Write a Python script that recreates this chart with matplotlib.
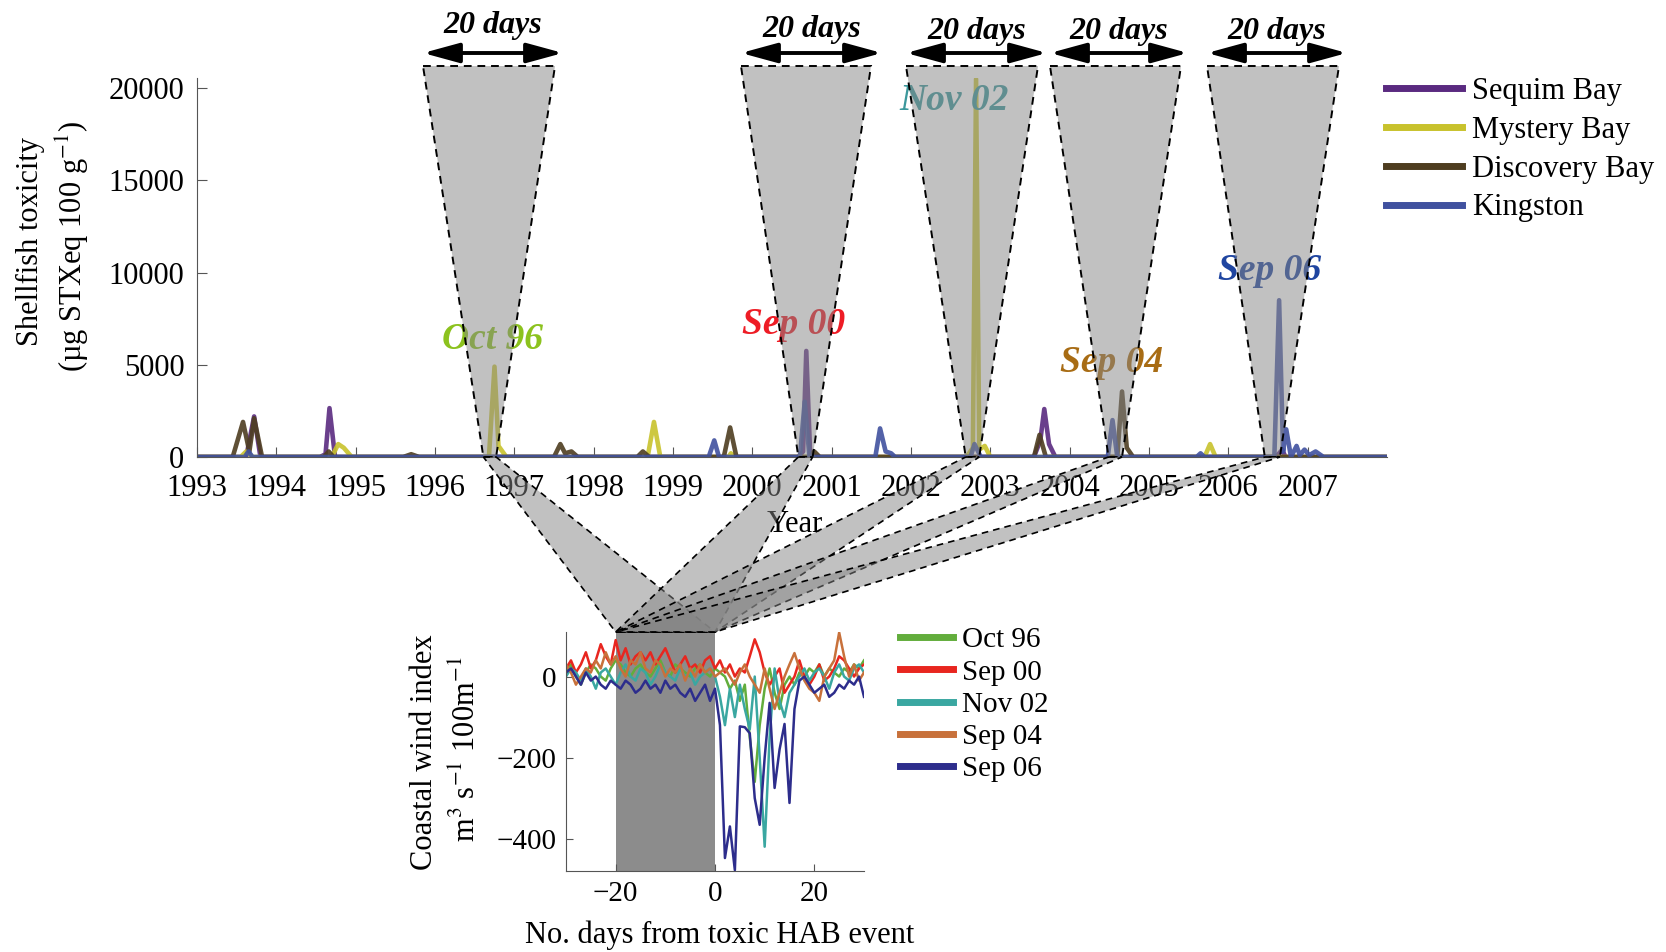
import numpy as np
import matplotlib
matplotlib.use('Agg')
import matplotlib.pyplot as plt
from matplotlib.patches import Polygon, FancyArrowPatch

plt.rcParams['font.family'] = ['Liberation Serif', 'DejaVu Serif']
plt.rcParams['mathtext.fontset'] = 'stix'

# ---- shellfish toxicity (ug STXeq 100 g-1) ----
t_sequim = [1993.0, 1993.62, 1993.72, 1993.80, 1994.55, 1994.62, 1994.67, 1994.74, 1995.5,
            1997.5, 1998.6, 1999.5, 2000.58, 2000.64, 2000.68, 2000.73, 2001.6, 2002.7,
            2003.55, 2003.63, 2003.68, 2003.74, 2003.82, 2004.6, 2006.6, 2006.68, 2006.72, 2008.0]
v_sequim = [0, 0, 2200, 0, 0, 150, 2650, 0, 0,
            0, 0, 0, 0, 300, 5750, 0, 0, 0,
            0, 900, 2600, 700, 0, 0, 0, 400, 0, 0]

t_mystery = [1993.0, 1993.55, 1993.62, 1993.70, 1994.70, 1994.78, 1994.85, 1994.95,
             1996.68, 1996.75, 1996.80, 1996.90, 1998.68, 1998.76, 1998.84, 1999.70, 1999.73,
             1999.77, 2002.70, 2002.78, 2002.82, 2002.86, 2002.93, 2003.0, 2005.70, 2005.77,
             2005.84, 2008.0]
v_mystery = [0, 0, 300, 0, 0, 700, 500, 0,
             0, 4900, 600, 0, 0, 1900, 0, 0, 200,
             0, 0, 500, 20500, 400, 600, 0, 0, 700,
             0, 0]

t_discovery = [1993.0, 1993.45, 1993.58, 1993.66, 1993.72, 1993.82, 1994.60, 1994.66, 1994.72,
               1995.60, 1995.70, 1995.80, 1997.50, 1997.58, 1997.64, 1997.72, 1997.80, 1998.55,
               1998.62, 1998.70, 1999.64, 1999.72, 1999.80, 2000.72, 2000.78, 2000.85, 2003.55,
               2003.62, 2003.70, 2004.60, 2004.66, 2004.72, 2004.80, 2008.0]
v_discovery = [0, 0, 1900, 300, 2100, 0, 0, 300, 0,
               0, 150, 0, 0, 700, 200, 300, 0, 0,
               300, 0, 0, 1600, 0, 0, 300, 0, 0,
               1200, 0, 0, 3550, 500, 0, 0]

t_kingston = [1993.0, 1993.60, 1993.65, 1993.70, 1999.45, 1999.52, 1999.58, 2000.60, 2000.66,
              2000.72, 2001.55, 2001.61, 2001.68, 2001.75, 2001.80, 2002.75, 2002.80, 2002.88,
              2004.48, 2004.54, 2004.60, 2005.60, 2005.65, 2005.70, 2006.58, 2006.64, 2006.69,
              2006.73, 2006.79, 2006.86, 2006.90, 2006.96, 2007.02, 2007.10, 2007.20, 2008.0]
v_kingston = [0, 0, 300, 0, 0, 900, 0, 0, 3000,
              0, 0, 1550, 300, 200, 0, 0, 700, 0,
              0, 2000, 0, 0, 200, 0, 0, 8500, 300,
              1500, 0, 600, 100, 400, 100, 300, 0, 0]

sites = ['Sequim Bay', 'Mystery Bay', 'Discovery Bay', 'Kingston']
site_colors = ['#5a2a80', '#c8c22c', '#4e3d20', '#40519f']

# ---- HAB events: 20-day windows on the time axis ----
events = ['Oct 96', 'Sep 00', 'Nov 02', 'Sep 04', 'Sep 06']
win_start = [1996.61, 2000.58, 2002.69, 2004.49, 2006.46]
win_end = [1996.77, 2000.76, 2002.86, 2004.66, 2006.65]
event_label_colors = ['#8cc21e', '#ee1c25', '#3c989c', '#a86c14', '#1f45a0']

# ---- coastal wind index around each event ----
days = np.arange(-30, 31)
wind_oct96 = [10, 30, 0, -20, 10, 30, 20, 0, -10, 20, 40, 30, 10, 0, 20, 30, 10, 0, 20, 40,
              10, 0, 30, 20, 10, 0, 20, 30, 10, 0, 20,
              10, 0, -30, -10, -60, -20, -150, -260, -120, -30, 20, -40, -80, -20, 0, -20,
              10, 0, 20, 10, 30, 0, 20, 10, 0, 20, 10, 30, 20, 40]
wind_sep00 = [20, 40, 10, 30, 60, 20, 40, 80, 50, 30, 90, 40, 70, 30, 50, 60, 40, 60, 30, 50,
              70, 40, 10, 30, 50, 20, 30, 10, 40, 50, 20,
              40, 10, 30, 0, 20, 10, 50, 92, 60, 10, -20, 0, 20, -40, -20, 0,
              40, 0, -20, 0, 30, -10, 0, 20, 50, 40, 20, 0, 20, 30]
wind_nov02 = [0, 20, 10, -10, 20, 0, -30, 10, 20, 0, -20, 10, 30, 0, -10, 20, 10, -20, 0, 30,
              10, 0, -10, 20, 0, 10, -20, 0, 10, 20, 0,
              -50, -120, -30, -100, -20, -80, -130, 0, -200, -420, -150, 20, -60, -100, -40, -20,
              0, 20, -10, 10, 20, 0, -30, 10, 30, 0, -10, 20, 30, 10]
wind_sep04 = [30, 10, -20, 0, 20, 10, 40, 20, 60, 30, 50, 20, 0, 40, 30, 60, 20, 10, 40, 30,
              0, 20, 10, 30, -10, 20, 0, 30, 10, 20, 0,
              10, 20, 0, -20, 10, 30, 0, -20, -40, 20, -30, -80, -40, 0, 30, 58,
              20, -10, -30, -40, -60, 0, 20, 40, 109, 50, 0, 30, -10, 10]
wind_sep06 = [10, 20, 0, -20, 10, -10, 0, -20, -30, -10, -20, -30, -10, -20, -40, -30, -10,
              -30, -20, -40, -10, -30, -20, -40, -50, -30, -60, -40, -20, -60, -30,
              -120, -448, -370, -478, -123, -125, -140, -300, -366, -200, -65, -275, -180, -117,
              -312, -80, -10, 0, -20, -40, -30, -20, -50, -40, -20, -30, -10, -20, 0, -50]
wind_series = [wind_oct96, wind_sep00, wind_nov02, wind_sep04, wind_sep06]
wind_colors = ['#62ad3c', '#e8261f', '#3aa7a1', '#c8713b', '#2d2d8c']

W, H = 1666, 952
fig = plt.figure(figsize=(W / 100, H / 100), dpi=100)


def px(x0, y0, x1, y1):
    # figure rect from pixel box (top-left origin)
    return [x0 / W, 1 - y1 / H, (x1 - x0) / W, (y1 - y0) / H]


# ---------------- top panel ----------------
ax = fig.add_axes(px(197, 78, 1387, 457))
t_all = [t_sequim, t_mystery, t_discovery, t_kingston]
v_all = [v_sequim, v_mystery, v_discovery, v_kingston]
for t, v, name, c in zip(t_all, v_all, sites, site_colors):
    ax.plot(t, v, color=c, lw=3.3, alpha=0.9, label=name)
ax.set_xlim(1993, 2008)
ax.set_ylim(0, 20550)
ax.set_xticks(range(1993, 2008))
ax.set_yticks([0, 5000, 10000, 15000, 20000])
ax.tick_params(direction='in', labelsize=22, length=7, color='#555555', pad=9)
ax.tick_params(axis='x', pad=12)
for s in ['top', 'right']:
    ax.spines[s].set_visible(False)
for s in ['left', 'bottom']:
    ax.spines[s].set_color('#555555')

leg = ax.legend(loc='upper left', bbox_to_anchor=(1386 / W, 1 - 77 / H),
                bbox_transform=fig.transFigure, frameon=False, fontsize=22,
                handlelength=2.5, handletextpad=0.33, labelspacing=0.32,
                borderpad=0, borderaxespad=0)
for line in leg.get_lines():
    line.set_linewidth(5)
    line.set_alpha(1)

fig.text(30 / W, 1 - 242 / H, 'Shellfish toxicity', rotation=90, ha='center', va='center', fontsize=22)
fig.text(72 / W, 1 - 246 / H, '(\u00b5g STXeq 100 g$^{-1}$)', rotation=90, ha='center',
         va='center', fontsize=22)
fig.text(795 / W, 1 - 524 / H, 'Year', ha='center', va='center', fontsize=22)

# ---------------- bottom panel ----------------
ax2 = fig.add_axes(px(566, 632, 864, 871))
ax2.axvspan(-20, 0, color='#8c8c8c', zorder=0, lw=0)
for y, name, c in zip(wind_series, events, wind_colors):
    ax2.plot(days, y, color=c, lw=1.8, label=name, zorder=2)
ax2.set_xlim(-30, 30)
ax2.set_ylim(-480, 110)
ax2.set_xticks([-20, 0, 20])
ax2.set_yticks([-400, -200, 0])
ax2.tick_params(direction='in', labelsize=21, length=5, color='#555555', pad=7)
for s in ['top', 'right']:
    ax2.spines[s].set_visible(False)
for s in ['left', 'bottom']:
    ax2.spines[s].set_color('#555555')

leg2 = ax2.legend(loc='upper left', bbox_to_anchor=(900 / W, 1 - 627 / H),
                  bbox_transform=fig.transFigure, frameon=False, fontsize=21,
                  handlelength=1.8, handletextpad=0.33, labelspacing=0.2,
                  borderpad=0, borderaxespad=0)
for line in leg2.get_lines():
    line.set_linewidth(5)

fig.text(425 / W, 1 - 752 / H, 'Coastal wind index', rotation=90, ha='center', va='center', fontsize=22)
fig.text(467 / W, 1 - 749 / H, r'm$^3$ s$^{-1}$ 100m$^{-1}$', rotation=90, ha='center',
         va='center', fontsize=22)
fig.text(720 / W, 1 - 935 / H, 'No. days from toxic HAB event', ha='center', va='center', fontsize=22)

# ---------------- zoom funnels ----------------
to_fig = fig.transFigure.inverted()


def fig_pt(a, x, y):
    return to_fig.transform(a.transData.transform((x, y)))


funnel_top_y = 1 - 66 / H
funnel_tops = [(423, 555), (741, 871), (906, 1038), (1050, 1181), (1207, 1339)]
arrow_spans = [(423, 563), (741, 882), (906, 1047), (1050, 1188), (1207, 1347)]
days_text_y = [26, 30, 32, 32, 32]
label_pos = [(493, 339), (794, 325), (954, 101), (1112, 363), (1270, 270)]

face = (0.52, 0.52, 0.52, 0.5)
cl = fig_pt(ax2, -20, 110)
cr = fig_pt(ax2, 0, 110)
for i, ev in enumerate(events):
    pl = fig_pt(ax, win_start[i], 0)
    pr = fig_pt(ax, win_end[i], 0)
    xl, xr = funnel_tops[i]
    top = Polygon([(xl / W, funnel_top_y), (xr / W, funnel_top_y), pr, pl], closed=True,
                  transform=fig.transFigure, facecolor=face, edgecolor='k', lw=1.4,
                  linestyle=(0, (4, 3)), zorder=10)
    low = Polygon([pl, pr, cr, cl], closed=True, transform=fig.transFigure,
                  facecolor=face, edgecolor='k', lw=1.2, linestyle=(0, (4, 3)), zorder=10)
    fig.add_artist(top)
    fig.add_artist(low)

    a0, a1 = arrow_spans[i]
    arr = FancyArrowPatch((a0 / W, 1 - 53 / H), (a1 / W, 1 - 53 / H), transform=fig.transFigure,
                          arrowstyle='<|-|>,head_length=1.1,head_width=0.3', mutation_scale=20,
                          lw=2.8, color='k', shrinkA=0, shrinkB=0)
    fig.add_artist(arr)
    fig.text((a0 + a1) / 2 / W, 1 - days_text_y[i] / H, '20 days', ha='center', va='center',
             fontsize=23, fontweight='bold', style='italic')

    lx, ly = label_pos[i]
    fig.text(lx / W, 1 - ly / H, ev, ha='center', va='center', fontsize=27,
             fontweight='bold', style='italic', color=event_label_colors[i], zorder=3)

fig.savefig('out.png', dpi=100)
